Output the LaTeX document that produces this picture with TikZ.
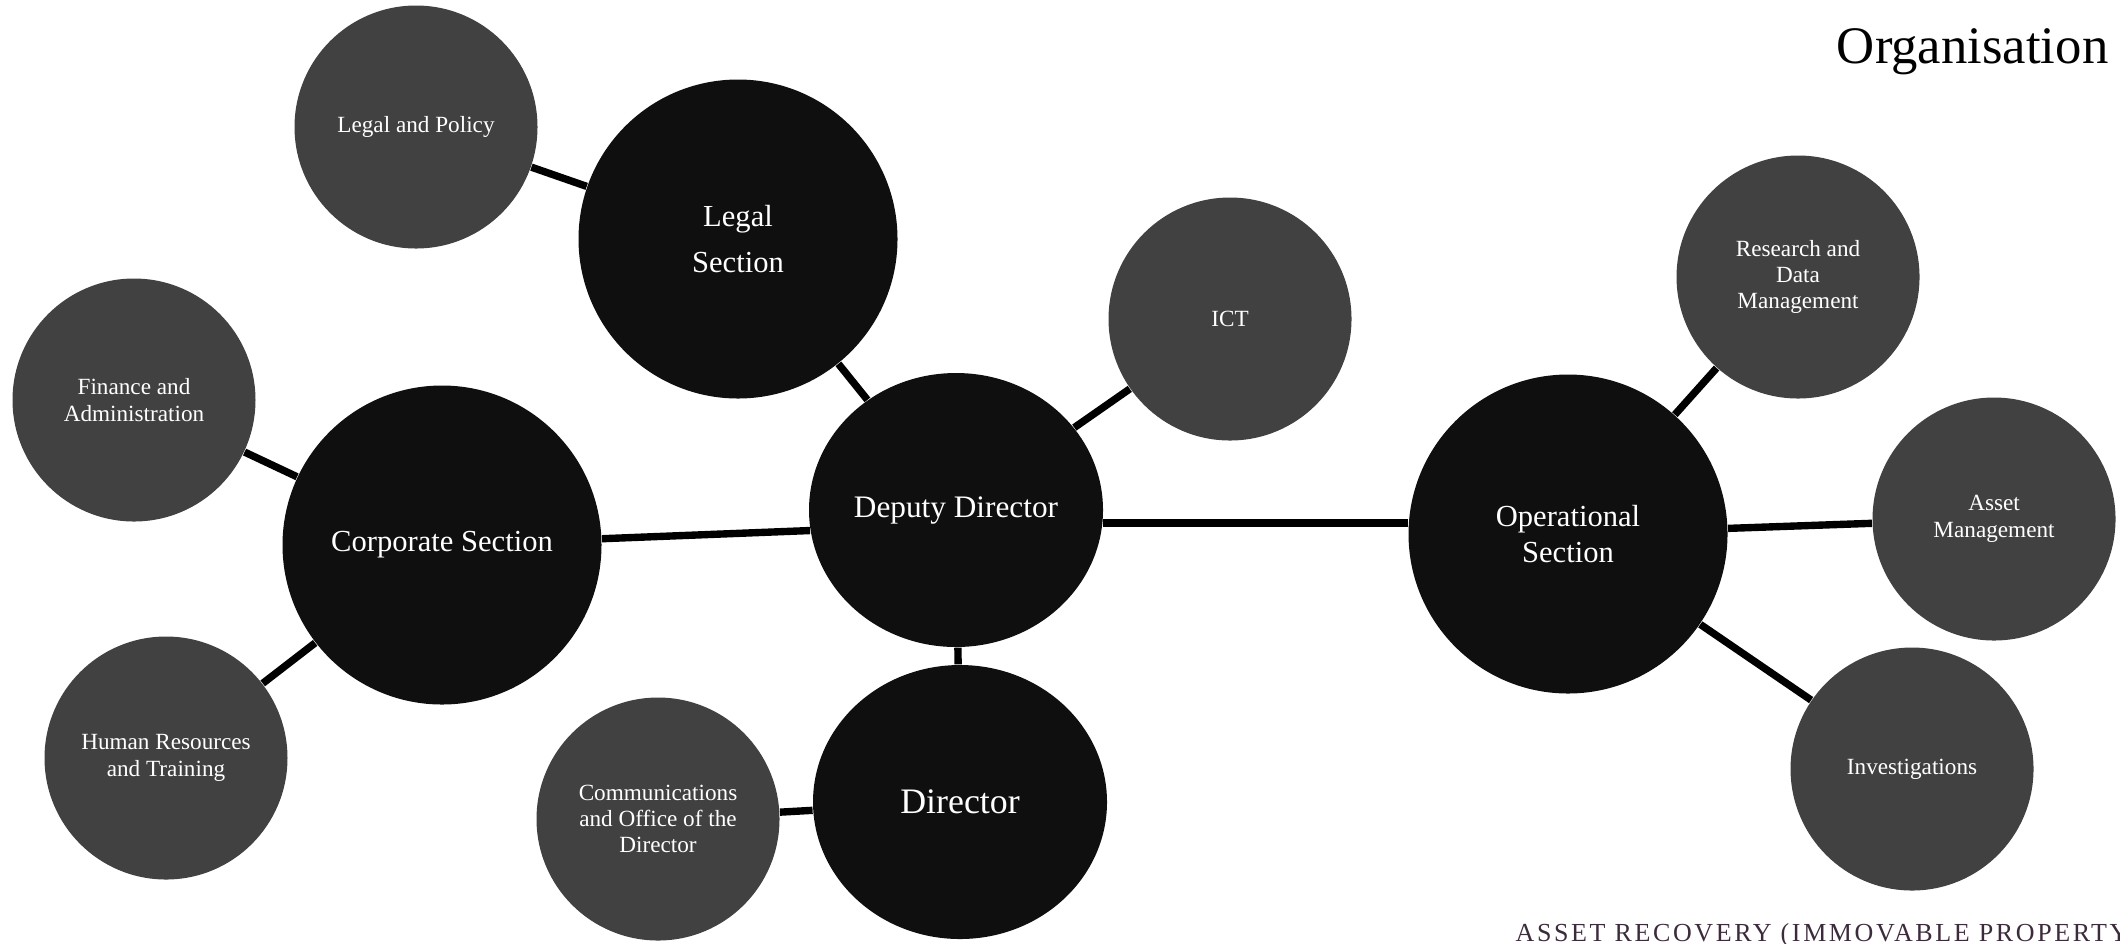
\documentclass[tikz,border=0pt]{standalone}
\usepackage{fontspec}
\setmainfont{Liberation Serif}
\usetikzlibrary{shapes.geometric}
\definecolor{darkbub}{HTML}{0F0F0F}
\definecolor{greybub}{HTML}{414141}
\definecolor{footcol}{HTML}{3C2B3C}
\tikzset{
section/.style={circle,fill=darkbub,text=white,minimum size=3.19cm,inner sep=0pt,align=center,font=\fontsize{8.7}{10}\selectfont},
head/.style={ellipse,fill=darkbub,text=white,minimum width=2.94cm,minimum height=2.74cm,inner sep=0pt,align=center},
unit/.style={circle,fill=greybub,text=white,minimum size=2.43cm,inner sep=0pt,align=center,font=\fontsize{6.6}{7.5}\selectfont},
link/.style={line width=2.1pt}
}
\begin{document}
\begin{tikzpicture}
\useasboundingbox (0,0) rectangle (21.2,-9.43);
\node[unit](lp) at (4.16,-1.27){Legal and Policy};
\node[section](ls) at (7.38,-2.39){Legal\\[3pt]Section};
\node[unit](ict) at (12.30,-3.19){ICT};
\node[unit](fin) at (1.34,-4.00){Finance and\\Administration};
\node[section](cs) at (4.42,-5.45){Corporate Section};
\node[head,font=\fontsize{8.9}{10}\selectfont](dd) at (9.56,-5.10){Deputy Director};
\node[unit](hr) at (1.66,-7.58){Human Resources\\and Training};
\node[unit](com) at (6.58,-8.19){Communications\\and Office of the\\Director};
\node[head,font=\fontsize{10.2}{12}\selectfont](dir) at (9.60,-8.02){Director};
\node[section](op) at (15.68,-5.34){Operational\\Section};
\node[unit](rdm) at (17.98,-2.77){Research and\\Data\\Management};
\node[unit](am) at (19.94,-5.19){Asset\\Management};
\node[unit](inv) at (19.12,-7.69){Investigations};
\draw[link](lp)--(ls);
\draw[link](ls)--(dd);
\draw[link](ict)--(dd);
\draw[link](fin)--(cs);
\draw[link](hr)--(cs);
\draw[link](cs)--(dd.188);
\draw[link](dd)--(dir);
\draw[link](com)--(dir);
\draw[link](dd.355)--(dd.355 -| op.west);
\draw[link](op)--(rdm);
\draw[link](op)--(am);
\draw[link](op)--(inv);
\node[anchor=base east,inner sep=0pt,font=\fontsize{15}{18}\selectfont](ttl) at (21.09,-0.63){Organisation};
\node[anchor=base west,inner sep=0pt,text=footcol,font=\fontsize{7.4}{9}\selectfont\addfontfeature{LetterSpace=10}](foot) at (15.15,-9.41){ASSET RECOVERY (IMMOVABLE PROPERTY};
\end{tikzpicture}
\end{document}
